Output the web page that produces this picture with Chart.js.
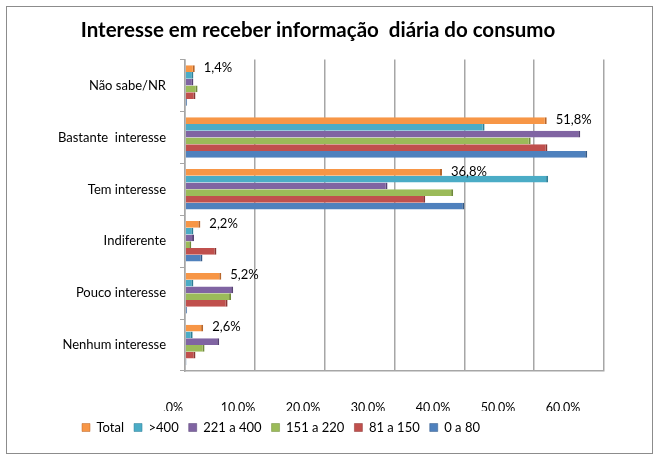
<!DOCTYPE html>
<html>
<head>
<meta charset="utf-8">
<script src="https://cdn.jsdelivr.net/npm/chart.js@4.4.1/dist/chart.umd.min.js"></script>
<style>
  html, body { margin: 0; padding: 0; background: #fff; }
  #wrap { width: 661px; height: 461px; position: relative; }
</style>
</head>
<body>
<div id="wrap"><canvas id="c" width="661" height="461"></canvas></div>
<script>
// categories (top to bottom)
const categories = ['Não sabe/NR', 'Bastante  interesse', 'Tem interesse', 'Indiferente', 'Pouco interesse', 'Nenhum interesse'];

// series values, in %
const total    = [1.4, 51.8, 36.8, 2.2, 5.2, 2.6];
const over400  = [1.2, 42.9, 52.0, 1.2, 1.2, 1.1];
const s221_400 = [1.2, 56.6, 29.0, 1.3, 6.9, 4.9];
const s151_220 = [1.8, 49.5, 38.4, 0.9, 6.6, 2.8];
const s81_150  = [1.5, 51.9, 34.4, 4.5, 6.1, 1.5];
const s0_80    = [0.3, 57.6, 40.0, 2.5, 0.3, 0.2];

const seriesNames = ['Total', '>400', '221 a 400', '151 a 220', '81 a 150', '0 a 80'];
const xTicks = [0, 10, 20, 30, 40, 50, 60];

const colors = ['#F79646', '#4BACC6', '#8064A2', '#9BBB59', '#C0504D', '#4F81BD'];
const edges  = ['#b8662a', '#2f7f96', '#574275', '#6f8a3a', '#8a3533', '#345a88'];

const pct = v => (v === 0 ? ',0' : v.toFixed(1).replace('.', ',')) + '%';

const FONT = 'Lato, "Open Sans", sans-serif';

const frame = {
  id: 'frame',
  beforeDraw(chart) {
    const ctx = chart.ctx;
    ctx.save();
    ctx.fillStyle = '#fff';
    ctx.fillRect(0, 0, chart.width, chart.height);
    ctx.strokeStyle = '#8c8c8c';
    ctx.lineWidth = 1;
    ctx.strokeRect(6.5, 6.5, 646, 447);
    ctx.restore();
  },
  afterLayout(chart) {
    // legend starts left of centre, title sits a bit right, as in the original
    chart.legend.left = 72;
    chart.titleBlock.left += 11;
    chart.titleBlock.right += 11;
  }
};

const totalLabels = {
  id: 'totalLabels',
  afterDatasetsDraw(chart) {
    const ctx = chart.ctx;
    const meta = chart.getDatasetMeta(0);
    ctx.save();
    ctx.font = '13px ' + FONT;
    ctx.fillStyle = '#000';
    ctx.textAlign = 'left';
    ctx.textBaseline = 'middle';
    meta.data.forEach((bar, i) => {
      ctx.fillText(pct(total[i]), bar.x + 9, bar.y - 1);
    });
    ctx.restore();
  }
};

const seriesData = [total, over400, s221_400, s151_220, s81_150, s0_80];

new Chart(document.getElementById('c'), {
  type: 'bar',
  data: {
    labels: categories,
    datasets: seriesData.map((d, i) => ({
      label: seriesNames[i],
      data: d,
      backgroundColor: colors[i],
      borderColor: edges[i],
      borderWidth: { right: 2 },
      borderSkipped: 'start',
      categoryPercentage: 0.78,
      barPercentage: 1.0
    }))
  },
  options: {
    indexAxis: 'y',
    responsive: false,
    animation: false,
    layout: { padding: { left: 10, right: 57, top: 10, bottom: 17 } },
    plugins: {
      title: {
        display: true,
        text: 'Interesse em receber informação  diária do consumo',
        color: '#000',
        font: { family: FONT, size: 20.5, weight: 'bold' },
        padding: { top: 8, bottom: 17 }
      },
      legend: {
        position: 'bottom',
        align: 'start',
        labels: {
          color: '#000',
          font: { family: FONT, size: 13 },
          boxWidth: 8,
          boxHeight: 8,
          padding: 10
        }
      },
      tooltip: { enabled: false }
    },
    scales: {
      y: {
        afterFit(s) { s.width = 175; },
        grid: { offset: true, drawOnChartArea: false, drawTicks: true, tickLength: 5, color: '#a6a6a6' },
        border: { display: true, color: '#a6a6a6', width: 1.5 },
        ticks: { color: '#000', padding: 14, font: { family: FONT, size: 13 } }
      },
      x: {
        min: 0,
        max: 60,
        afterBuildTicks(s) { s.ticks = xTicks.map(v => ({ value: v })); },
        afterFit(s) { s.height = 0; },
        grid: { color: '#a6a6a6', lineWidth: 1.5, drawTicks: false },
        border: { display: true, color: '#a6a6a6', width: 1.5 },
        ticks: { display: false }
      },
      x2: {
        // label axis: the tick labels sit on the front edge of the 3D floor
        type: 'linear',
        position: 'bottom',
        min: 12 / 6.5,
        max: 12 / 6.5 + 419 / 6.5,
        afterBuildTicks(s) { s.ticks = xTicks.map(v => ({ value: v })); },
        afterFit(s) { s.height = 40; },
        grid: { display: false, drawTicks: false },
        border: { display: false },
        ticks: {
          color: '#000',
          padding: 29,
          font: { family: FONT, size: 12.5 },
          maxRotation: 0,
          callback: v => pct(v)
        }
      }
    }
  },
  plugins: [frame, totalLabels]
});
</script>
</body>
</html>
